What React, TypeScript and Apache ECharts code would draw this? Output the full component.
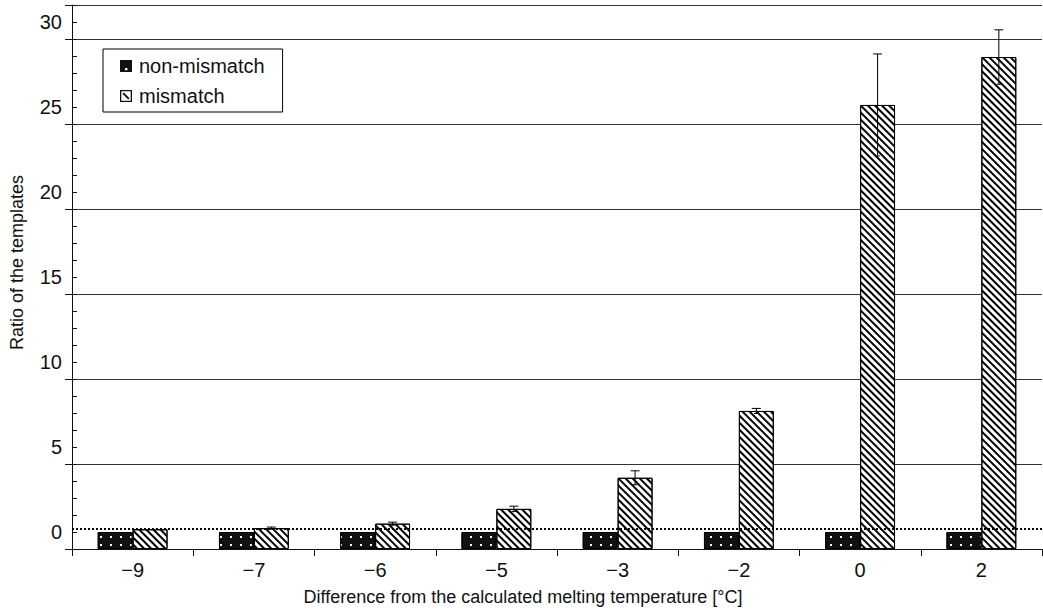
import React, { useEffect, useRef } from 'react';
import * as echarts from 'echarts';

// ---- data ----
const categories = ['−9', '−7', '−6', '−5', '−3', '−2', '0', '2'];
const seriesNames = ['non-mismatch', 'mismatch'];
const nonMismatch = [1.0, 1.0, 1.0, 1.0, 1.0, 1.0, 1.0, 1.0];
const mismatch = [1.16, 1.23, 1.49, 2.36, 4.19, 8.12, 26.12, 28.94];
const mismatchError = [0, 0.06, 0.09, 0.16, 0.41, 0.15, 3.0, 1.6];
const yTickLabels = ['0', '5', '10', '15', '20', '25', '30'];
const yLabelFirstValue = 1; // the printed "0" sits at a ratio of 1
const yLabelStep = 5;
const referenceLevel = 1.2;
const xTitle = 'Difference from the calculated melting temperature [°C]';
const yTitle = 'Ratio of the templates';

const FONT = '"Liberation Sans", Arial, Helvetica, sans-serif';
const INK = '#111';
const BAR_FRAC = 0.288;

export default function App() {
  const ref = useRef<HTMLDivElement>(null);

  useEffect(() => {
    if (!ref.current) return;
    const chart = echarts.init(ref.current, undefined, { renderer: 'svg' });

    const yLabelFormatter = (v: number) => {
      const k = (v - yLabelFirstValue) / yLabelStep;
      if (Math.abs(k - Math.round(k)) < 1e-6) {
        const i = Math.round(k);
        if (i >= 0 && i < yTickLabels.length) return yTickLabels[i];
      }
      return '';
    };

    const renderError = (params: any, api: any) => {
      const idx = api.value(0);
      const val = api.value(1);
      const err = api.value(2);
      if (!err) return null;
      const band = api.size([1, 0])[0];
      const off = (band * BAR_FRAC) / 2;
      const top = api.coord([idx, val + err]);
      const bot = api.coord([idx, val - err]);
      const x = top[0] + off;
      const cap = 4.5;
      const style = { stroke: '#000', lineWidth: 1 };
      return {
        type: 'group',
        children: [
          { type: 'line', shape: { x1: x, y1: top[1], x2: x, y2: bot[1] }, style },
          { type: 'line', shape: { x1: x - cap, y1: top[1], x2: x + cap, y2: top[1] }, style },
          { type: 'line', shape: { x1: x - cap / 2, y1: bot[1], x2: x + cap / 2, y2: bot[1] }, style },
        ],
      };
    };

    const option: any = {
      animation: false,
      textStyle: { fontFamily: FONT, color: INK },
      grid: { left: 69, right: 1, top: 5, bottom: 60, containLabel: false },
      legend: {
        orient: 'vertical',
        left: 103,
        top: 49,
        padding: [7, 18, 6, 17],
        itemGap: 10,
        itemWidth: 12,
        itemHeight: 12,
        borderColor: '#000',
        borderWidth: 1,
        backgroundColor: '#fff',
        selectedMode: false,
        textStyle: { fontSize: 20, color: INK, fontFamily: FONT, padding: [0, 0, 0, 2] },
        data: [
          {
            name: seriesNames[0],
            icon: 'path://M0,0H12V12H0Z M5,8V10.2H7.4V8Z',
            itemStyle: { color: '#111', borderWidth: 0, decal: 'none' },
          },
          {
            name: seriesNames[1],
            icon: 'path://M0,0H12V12H0Z M1.3,1.3V10.7H10.7V1.3Z M2.4,3.8L3.8,2.4L9.6,8.2L8.2,9.6Z',
            itemStyle: { color: '#111', borderWidth: 0, decal: 'none' },
          },
        ],
      },
      xAxis: {
        type: 'category',
        data: categories,
        axisLine: { lineStyle: { color: INK, width: 1 } },
        axisTick: { show: true, length: 7, lineStyle: { color: INK, width: 1 } },
        axisLabel: { fontSize: 20, color: INK, margin: 11 },
        splitLine: { show: false },
        name: xTitle,
        nameLocation: 'middle',
        nameGap: 39,
        nameTextStyle: { fontSize: 18, color: INK, padding: [0, 68, 0, 0] },
      },
      yAxis: [
        {
          type: 'value',
          min: 0,
          max: 32,
          interval: 5,
          position: 'left',
          axisLine: { show: true, lineStyle: { color: INK, width: 1 } },
          axisTick: { show: true, inside: false, length: 7, lineStyle: { color: INK } },
          axisLabel: { show: false },
          splitLine: { show: true, lineStyle: { color: '#333', width: 1 } },
          name: yTitle,
          nameLocation: 'middle',
          nameGap: 46,
          nameTextStyle: { fontSize: 18, color: INK, padding: [0, 0, 0, 29] },
        },
        {
          type: 'value',
          min: 0,
          max: 32,
          interval: 1,
          position: 'left',
          axisLine: { show: false },
          axisTick: { show: true, inside: true, length: 5, lineStyle: { color: INK } },
          axisLabel: { fontSize: 20, color: INK, margin: 10, formatter: yLabelFormatter },
          splitLine: { show: false },
        },
      ],
      series: [
        {
          name: seriesNames[0],
          type: 'bar',
          data: nonMismatch,
          barWidth: (BAR_FRAC * 100).toFixed(1) + '%',
          barGap: '0%',
          itemStyle: {
            color: '#111',
            borderColor: '#000',
            borderWidth: 1,
            decal: {
              symbol: 'rect',
              symbolSize: 1,
              color: '#fff',
              dashArrayX: [2, 7.5],
              dashArrayY: [2, 6],
              rotation: 0,
            },
          },
          emphasis: { disabled: true },
          markLine: {
            silent: true,
            symbol: ['none', 'none'],
            label: { show: false },
            lineStyle: { color: '#000', type: [2, 2], width: 2 },
            data: [{ yAxis: referenceLevel }],
          },
        },
        {
          name: seriesNames[1],
          type: 'bar',
          data: mismatch,
          barWidth: (BAR_FRAC * 100).toFixed(1) + '%',
          barGap: '0%',
          itemStyle: {
            color: '#fff',
            borderColor: '#000',
            borderWidth: 1,
            decal: {
              symbol: 'rect',
              symbolSize: 1,
              color: '#000',
              dashArrayX: [1, 0],
              dashArrayY: [2, 3],
              rotation: Math.PI / 4,
            },
          },
          emphasis: { disabled: true },
        },
        {
          name: 'error',
          type: 'custom',
          renderItem: renderError,
          data: mismatch.map((v, i) => [i, v, mismatchError[i]]),
          encode: { x: 0, y: 1 },
          z: 5,
          silent: true,
        },
      ],
    };

    chart.setOption(option);
    return () => chart.dispose();
  }, []);

  return (
    <div
      ref={ref}
      style={{ position: 'fixed', left: 0, top: 0, width: 1043, height: 611, background: '#fff' }}
    />
  );
}
